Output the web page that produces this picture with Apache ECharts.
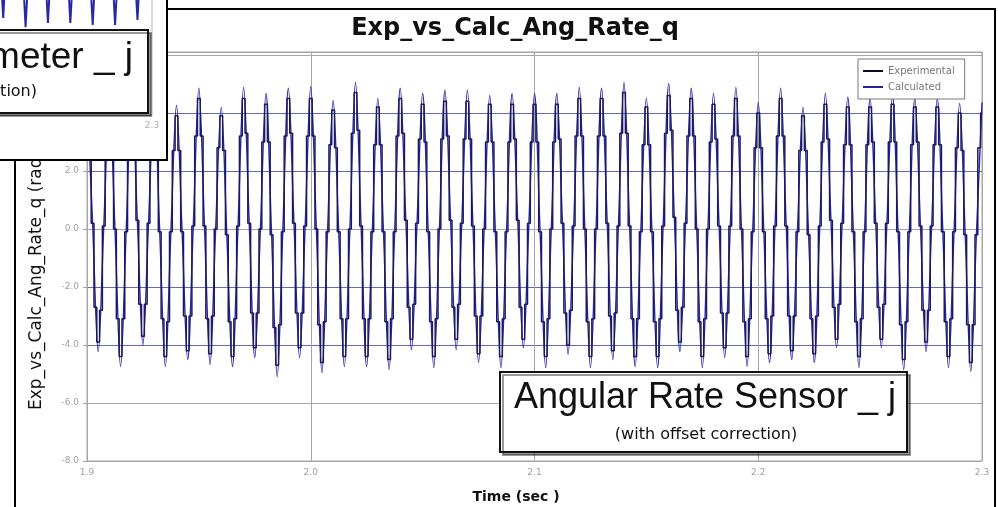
<!DOCTYPE html>
<html><head><meta charset="utf-8">
<script src="https://cdn.jsdelivr.net/npm/echarts@6/dist/echarts.min.js"></script>
<style>html,body{margin:0;padding:0;background:#fff}#c{width:998px;height:507px}</style>
</head><body><div id="c"></div>
<script>
const chartTitle = 'Exp_vs_Calc_Ang_Rate_q';
const xAxisName = 'Time (sec )';
const yAxisName = 'Exp_vs_Calc_Ang_Rate_q (rad/sec)';
const seriesNames = ['Experimental', 'Calculated'];
const xTicks = [1.9, 2.0, 2.1, 2.2, 2.3];
const yTicks = [-8, -6, -4, -2, 0, 2, 4, 6];
const annotationMain = ['Angular Rate Sensor _ j', '(with offset correction)'];
const annotationInset = ['Accelerometer _ j', '(with offset correction)'];

// Calculated: samples every 2.5 ms starting at 1.9 s
const calcStart = 1.9, calcStep = 0.0025;
const calculated = [
 4.6, 0.2, -4.23, 0.1,
 4.4, 0.0, -4.74, -0.1,
 4.7, 0.3, -3.99, 0.2,
 4.5, -0.1, -4.74, -0.1,
 4.26, -0.1, -4.5, 0.1,
 4.85, 0.1, -4.67, 0.0,
 4.19, -0.2, -4.74, 0.1,
 4.88, 0.2, -4.43, 0.0,
 4.67, -0.2, -5.09, -0.1,
 4.85, 0.2, -4.43, 0.1,
 4.9, 0.0, -4.95, -0.1,
 4.43, -0.1, -4.74, 0.0,
 5.05, 0.1, -4.74, -0.1,
 4.5, -0.1, -4.85, -0.1,
 4.85, 0.3, -4.16, 0.2,
 4.67, -0.1, -4.78, 0.0,
 4.78, 0.3, -4.16, 0.2,
 4.78, 0.1, -4.6, 0.0,
 4.6, -0.1, -4.78, -0.1,
 4.67, 0.3, -4.09, 0.2,
 4.67, -0.1, -4.78, 0.0,
 4.67, 0.2, -4.33, 0.1,
 4.88, 0.0, -4.78, 0.0,
 4.85, 0.2, -4.5, 0.1,
 5.05, 0.1, -4.74, -0.1,
 4.5, -0.1, -4.78, 0.1,
 5.02, 0.4, -4.23, 0.2,
 4.85, 0.0, -4.78, 0.0,
 4.67, 0.1, -4.43, 0.1,
 4.88, 0.0, -4.74, -0.1,
 4.35, -0.1, -4.6, 0.1,
 4.85, 0.1, -4.5, -0.1,
 4.19, -0.2, -4.6, 0.1,
 4.67, 0.3, -4.09, 0.2,
 4.54, -0.1, -4.78, -0.1,
 4.5, 0.2, -4.09, 0.2,
 4.6, -0.1, -4.85, -0.1,
 4.5, 0.1, -4.23, 0.1,
 4.5, -0.1, -4.78, -0.1,
 4.33, -0.2, -4.91, -0.2,
 4.36
];

// Experimental: samples every 1.25 ms starting at 1.9 s (held values)
const expStart = 1.9, expStep = 0.00125;
const experimental = [
 4.3, 3.1, 0.2, -2.7, -3.9, -2.8, 0.1, 2.9,
 4.1, 2.9, 0.0, -3.1, -4.4, -3.1, -0.1, 3.1,
 4.4, 3.2, 0.3, -2.6, -3.7, -2.6, 0.2, 3.0,
 4.2, 2.9, -0.1, -3.1, -4.4, -3.2, -0.1, 2.7,
 3.9, 2.7, -0.1, -3.0, -4.2, -3.0, 0.1, 3.2,
 4.5, 3.2, 0.1, -3.1, -4.3, -3.0, 0.0, 2.8,
 3.9, 2.7, -0.2, -3.2, -4.4, -3.1, 0.1, 3.2,
 4.5, 3.3, 0.2, -2.9, -4.1, -2.9, 0.0, 3.0,
 4.3, 3.0, -0.2, -3.4, -4.7, -3.3, -0.1, 3.2,
 4.5, 3.3, 0.2, -2.9, -4.1, -2.9, 0.1, 3.2,
 4.5, 3.2, 0.0, -3.3, -4.6, -3.2, -0.1, 2.9,
 4.1, 2.8, -0.1, -3.1, -4.4, -3.1, 0.0, 3.3,
 4.7, 3.4, 0.1, -3.1, -4.4, -3.1, -0.1, 2.9,
 4.2, 2.9, -0.1, -3.2, -4.5, -3.1, -0.1, 3.2,
 4.5, 3.3, 0.3, -2.7, -3.8, -2.6, 0.2, 3.1,
 4.3, 3.0, -0.1, -3.2, -4.4, -3.1, 0.0, 3.1,
 4.4, 3.2, 0.3, -2.7, -3.8, -2.6, 0.2, 3.1,
 4.4, 3.1, 0.1, -3.0, -4.3, -3.0, 0.0, 3.0,
 4.3, 3.0, -0.1, -3.2, -4.4, -3.1, -0.1, 3.0,
 4.3, 3.1, 0.3, -2.7, -3.8, -2.6, 0.2, 3.0,
 4.3, 3.0, -0.1, -3.2, -4.4, -3.1, 0.0, 3.0,
 4.3, 3.1, 0.2, -2.9, -4.0, -2.8, 0.1, 3.2,
 4.5, 3.2, 0.0, -3.2, -4.4, -3.1, 0.0, 3.2,
 4.5, 3.2, 0.2, -3.0, -4.2, -2.9, 0.1, 3.3,
 4.7, 3.3, 0.1, -3.1, -4.4, -3.1, -0.1, 2.9,
 4.2, 2.9, -0.1, -3.2, -4.4, -3.1, 0.1, 3.3,
 4.6, 3.4, 0.4, -2.8, -3.9, -2.7, 0.2, 3.2,
 4.5, 3.2, 0.0, -3.2, -4.4, -3.1, 0.0, 3.0,
 4.3, 3.1, 0.1, -2.9, -4.1, -2.9, 0.1, 3.2,
 4.5, 3.2, 0.0, -3.2, -4.4, -3.1, -0.1, 2.8,
 4.0, 2.8, -0.1, -3.1, -4.3, -3.0, 0.1, 3.2,
 4.5, 3.2, 0.1, -3.0, -4.2, -3.0, -0.1, 2.7,
 3.9, 2.7, -0.2, -3.1, -4.3, -3.0, 0.1, 3.0,
 4.3, 3.1, 0.3, -2.7, -3.8, -2.6, 0.2, 2.9,
 4.2, 2.9, -0.1, -3.2, -4.4, -3.1, -0.1, 2.9,
 4.2, 3.0, 0.2, -2.7, -3.8, -2.6, 0.2, 3.0,
 4.3, 3.0, -0.1, -3.3, -4.5, -3.2, -0.1, 2.9,
 4.2, 3.0, 0.1, -2.8, -3.9, -2.8, 0.1, 2.9,
 4.2, 2.9, -0.1, -3.2, -4.4, -3.1, -0.1, 2.8,
 4.0, 2.7, -0.2, -3.3, -4.6, -3.3, -0.2, 2.8,
 4.0
];

// Partly hidden window behind (accelerometer chart) – visible troughs only
const insetTime = [2.2285, 2.2335, 2.2385, 2.2435, 2.2485, 2.2535, 2.2585, 2.2635, 2.2685, 2.2735, 2.2785, 2.2835, 2.2885, 2.2935, 2.2985];
const insetValues = [9.5, 3.08, 9.8, 2.79, 9.6, 2.92, 9.7, 2.92, 9.5, 2.86, 9.8, 2.86, 9.6, 3.02, 9.4];

const calcData = calculated.map((v, i) => [calcStart + i * calcStep, v]);
const expData = experimental.map((v, i) => [expStart + i * expStep, v]);
const insetData = insetTime.map((t, i) => [t, insetValues[i]]);

const GRID_COL = '#a6a6a6';
const BLUE_GRID = '#6468c0';

const chart = echarts.init(document.getElementById('c'), null, {renderer: 'canvas'});
chart.setOption({
  animation: false,
  backgroundColor: '#fff',
  title: {
    text: chartTitle, left: 515, top: 17, textAlign: 'center', padding: 0,
    textStyle: {fontFamily: 'DejaVu Sans', fontWeight: 'bold', fontSize: 24, color: '#111'}
  },
  legend: {
    data: seriesNames, orient: 'vertical', left: 858, top: 59, z: 5,
    backgroundColor: '#fff', borderColor: '#777', borderWidth: 1, borderRadius: 0,
    padding: [7, 10, 7, 5], itemGap: 6, itemWidth: 20, itemHeight: 2, icon: 'rect',
    textStyle: {fontFamily: 'DejaVu Sans', fontSize: 10, color: '#777'}
  },
  grid: [
    {left: 87, right: 16, top: 52, bottom: 46, show: true, borderColor: GRID_COL, borderWidth: 1, backgroundColor: '#fff', outerBoundsMode: 'none'},
    {left: -743, width: 895, top: -200, height: 315, show: true, borderColor: '#b4b4b4', borderWidth: 1, z: 10, outerBoundsMode: 'none'}
  ],
  xAxis: [
    {
      type: 'value', gridIndex: 0, min: xTicks[0], max: xTicks[xTicks.length - 1], interval: 0.1,
      axisLine: {lineStyle: {color: GRID_COL}},
      axisTick: {show: true, length: 4, lineStyle: {color: GRID_COL}},
      axisLabel: {color: '#a0a0a0', fontSize: 9, margin: 7, fontFamily: 'DejaVu Sans', formatter: v => v.toFixed(1)},
      splitLine: {show: true, lineStyle: {color: GRID_COL, width: 1}}
    },
    {
      type: 'value', gridIndex: 1, min: xTicks[0], max: xTicks[xTicks.length - 1], interval: 0.1, z: 10,
      axisLine: {lineStyle: {color: '#b4b4b4'}},
      axisTick: {show: false},
      axisLabel: {color: '#b0b0b0', fontSize: 9, margin: 6, fontFamily: 'DejaVu Sans', formatter: v => v.toFixed(1)},
      splitLine: {show: false}
    }
  ],
  yAxis: [
    {
      type: 'value', gridIndex: 0, min: yTicks[0], max: 6.1, interval: 2,
      axisLine: {show: true, lineStyle: {color: GRID_COL}},
      axisTick: {show: true, length: 4, lineStyle: {color: GRID_COL}},
      axisLabel: {color: '#a0a0a0', fontSize: 9, margin: 8, fontFamily: 'DejaVu Sans', formatter: v => v.toFixed(1)},
      splitLine: {show: true, lineStyle: {color: [GRID_COL, GRID_COL, BLUE_GRID, BLUE_GRID, BLUE_GRID, BLUE_GRID, BLUE_GRID, GRID_COL, GRID_COL], width: 1}}
    },
    {type: 'value', gridIndex: 1, min: 0, max: 10, show: false}
  ],
  series: [
    {
      name: seriesNames[1], type: 'line', xAxisIndex: 0, yAxisIndex: 0, data: calcData,
      smooth: 0.35, showSymbol: false, symbol: 'none', z: 2,
      color: '#2323a3', lineStyle: {color: '#2626a6', width: 1.4}
    },
    {
      name: seriesNames[0], type: 'line', xAxisIndex: 0, yAxisIndex: 0, data: expData,
      step: 'middle', showSymbol: false, symbol: 'none', z: 3,
      color: '#0a0a28', lineStyle: {color: '#1b1b5c', width: 1.5}
    },
    {
      name: 'inset', type: 'line', xAxisIndex: 1, yAxisIndex: 1, data: insetData,
      showSymbol: false, symbol: 'none', z: 11,
      lineStyle: {color: '#2a2aa0', width: 2}
    }
  ],
  graphic: [
    {type: 'line', z: 7, shape: {x1: 15, y1: 9, x2: 996, y2: 9}, style: {stroke: '#000', lineWidth: 2}},
    {type: 'line', z: 7, shape: {x1: 15, y1: 9, x2: 15, y2: 507}, style: {stroke: '#000', lineWidth: 2}},
    {type: 'line', z: 7, shape: {x1: 995, y1: 9, x2: 995, y2: 507}, style: {stroke: '#000', lineWidth: 2}},
    {type: 'text', z: 3, x: 37, y: 410, rotation: Math.PI / 2,
     style: {text: yAxisName, font: '17px "DejaVu Sans"', fill: '#111', align: 'left', textAlign: 'left', verticalAlign: 'middle', textVerticalAlign: 'middle'}},
    {type: 'text', z: 3, x: 516, y: 497,
     style: {text: xAxisName, font: 'bold 14px "DejaVu Sans"', fill: '#111', align: 'center', textAlign: 'center', verticalAlign: 'middle', textVerticalAlign: 'middle'}},
    {type: 'rect', z: 6, shape: {x: 500, y: 372, width: 407, height: 80},
     style: {fill: '#fff', stroke: '#111', lineWidth: 2, shadowColor: 'rgba(0,0,0,0.4)', shadowOffsetX: 3, shadowOffsetY: 3, shadowBlur: 0}},
    {type: 'text', z: 6, x: 705, y: 398,
     style: {text: annotationMain[0], font: '36px "Liberation Sans"', fill: '#111', align: 'center', textAlign: 'center', verticalAlign: 'middle', textVerticalAlign: 'middle'}},
    {type: 'text', z: 6, x: 706, y: 435,
     style: {text: annotationMain[1], font: '16px "DejaVu Sans"', fill: '#111', align: 'center', textAlign: 'center', verticalAlign: 'middle', textVerticalAlign: 'middle'}},
    {type: 'rect', z: 8, shape: {x: -5, y: -5, width: 172, height: 165}, style: {fill: '#fff'}},
    {type: 'line', z: 9, shape: {x1: 167, y1: 0, x2: 167, y2: 161}, style: {stroke: '#000', lineWidth: 2}},
    {type: 'line', z: 9, shape: {x1: 0, y1: 160, x2: 168, y2: 160}, style: {stroke: '#000', lineWidth: 2}},
    {type: 'rect', z: 12, shape: {x: -20, y: 30, width: 168, height: 83},
     style: {fill: '#fff', stroke: '#111', lineWidth: 2, shadowColor: 'rgba(0,0,0,0.4)', shadowOffsetX: 3, shadowOffsetY: 3, shadowBlur: 0}},
    {type: 'text', z: 12, x: 133, y: 58,
     style: {text: annotationInset[0], font: '37px "Liberation Sans"', fill: '#111', align: 'right', textAlign: 'right', verticalAlign: 'middle', textVerticalAlign: 'middle'}},
    {type: 'text', z: 12, x: 37, y: 92,
     style: {text: annotationInset[1], font: '16px "DejaVu Sans"', fill: '#111', align: 'right', textAlign: 'right', verticalAlign: 'middle', textVerticalAlign: 'middle'}}
  ]
});
</script></body></html>
